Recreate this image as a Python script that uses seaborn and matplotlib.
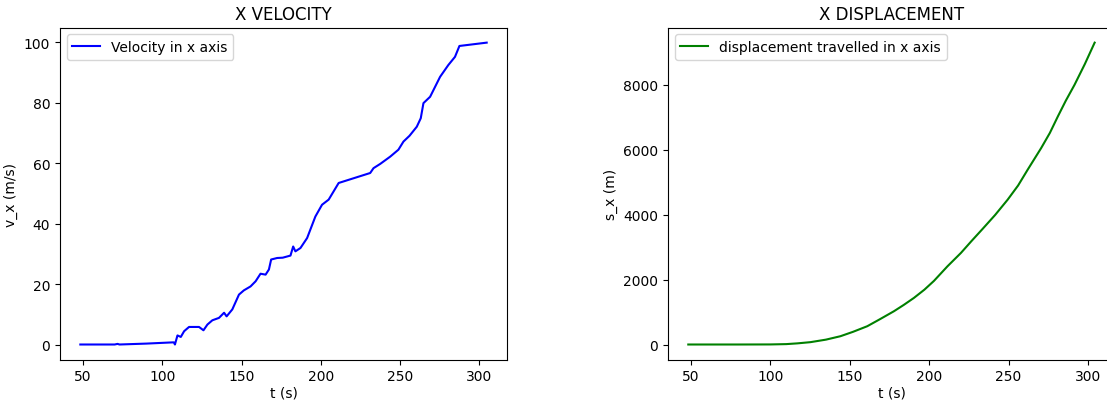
import matplotlib
matplotlib.use('Agg')
import matplotlib.pyplot as plt
import seaborn as sns

# velocity readings (t in s, v_x in m/s)
t_vel = [48.3, 60, 70, 71.8, 73, 90, 106.5, 107.3, 108, 109.6, 111.7, 113.8, 116.9,
         120, 123.2, 126, 128.5, 131.6, 135.8, 139, 140.6, 144.2, 148.4, 151.5,
         155.7, 158.9, 162, 165.2, 167.3, 168.7, 172.5, 176, 180.9, 182.6, 184,
         187.2, 191.4, 196.6, 200.8, 205, 211.3, 231.2, 233.3, 237.5, 243.8, 249,
         252.2, 256, 260.6, 263.1, 264.8, 269, 275.3, 280.5, 284.7, 287.5, 304.7]
v_x = [0.0, 0.0, 0.0, 0.2, 0.0, 0.3, 0.7, 0.7, 0.0, 3.0, 2.5, 4.4, 5.8,
       5.8, 5.8, 4.7, 6.6, 8.0, 8.8, 10.5, 9.3, 11.6, 16.5, 17.9,
       19.2, 20.9, 23.4, 23.1, 24.8, 28.1, 28.6, 28.7, 29.4, 32.4, 30.8,
       31.9, 35.2, 42.3, 46.2, 47.9, 53.4, 56.7, 58.3, 59.7, 62.1, 64.4,
       67.1, 69.0, 72.0, 74.8, 79.8, 81.9, 88.5, 92.4, 95.1, 98.7, 99.8]

# displacement readings (t in s, s_x in m)
t_disp = [48.3, 80, 100, 110, 117, 125.2, 135, 144.1, 152, 161, 169, 177.8,
          184, 190.4, 197, 203, 211.5, 220, 226.5, 233.6, 241.5, 249.4, 256,
          262, 270.5, 276, 281, 286, 291.5, 298, 304.2]
s_x = [0, 0, 2, 12, 35, 72, 150, 255, 390, 563, 780, 1025,
       1220, 1436, 1690, 1960, 2409, 2822, 3180, 3560, 3990, 4462, 4900,
       5385, 6052, 6520, 7025, 7510, 8000, 8640, 9302]

fig = plt.figure(figsize=(11.07, 4.02), dpi=100)
ax1 = fig.add_axes([0.0542, 0.1030, 0.4038, 0.826])
ax2 = fig.add_axes([0.6034, 0.1030, 0.4038, 0.826])

sns.lineplot(x=t_vel, y=v_x, color='blue', label='Velocity in x axis', ax=ax1)
ax1.set_title('X VELOCITY')
ax1.set_xlabel('t (s)', labelpad=1.5)
ax1.set_ylabel('v_x (m/s)')
ax1.legend(loc='upper left')

sns.lineplot(x=t_disp, y=s_x, color='green', label='displacement travelled in x axis', ax=ax2)
ax2.set_title('X DISPLACEMENT')
ax2.set_xlabel('t (s)', labelpad=1.5)
ax2.set_ylabel('s_x (m)')
ax2.legend(loc='upper left')

fig.savefig('out.png', dpi=100)
